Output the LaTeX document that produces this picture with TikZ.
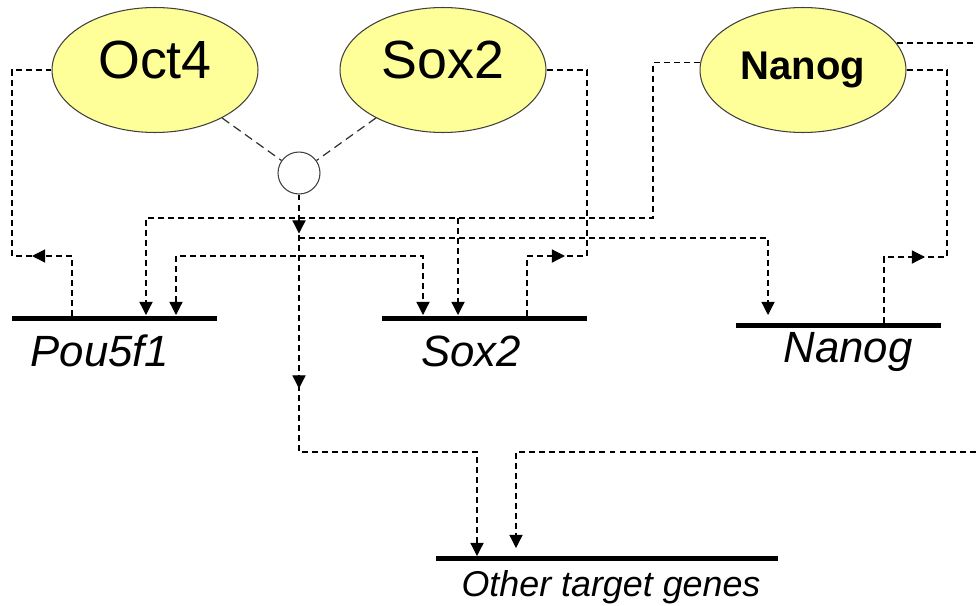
\documentclass[tikz,border=0pt]{standalone}
\usepackage{fontspec}
\newfontfamily\arialf{Liberation Sans}
\usetikzlibrary{shapes.geometric,arrows.meta,decorations.markings}
\definecolor{protfill}{RGB}{255,255,153}
\begin{document}
\begin{tikzpicture}[x=0.02cm,y=-0.02cm,
  prot/.style={ellipse, draw=black!75, line width=0.6pt, fill=protfill,
    minimum width=4.12cm, minimum height=2.5cm, inner sep=0pt},
  complexdot/.style={circle, draw=black!75, line width=0.6pt, fill=white,
    minimum size=0.84cm, inner sep=0pt},
  genebar/.style={rectangle, fill=black, minimum height=0.1cm, inner sep=0pt},
  glabel/.style={font=\arialf\itshape\fontsize{24.9pt}{30pt}\selectfont,
    inner sep=0pt, anchor=base},
  dline/.style={line width=0.72pt, dash pattern=on 3.4pt off 2.3pt},
  bondline/.style={line width=0.7pt, dash pattern=on 5pt off 3pt, draw=black!80},
  endtip/.style={-{Triangle[length=7.5pt,width=7.5pt]}},
  twotips/.style={{Triangle[length=7.5pt,width=7.5pt]}-{Triangle[length=7.5pt,width=7.5pt]}},
  midtip/.style={postaction={decorate}, decoration={markings,
    mark=at position #1 with {\arrow{Triangle[length=7.5pt,width=7.5pt]}}}}
]
\useasboundingbox (0,0) rectangle (976,605);

% proteins and the Oct4/Sox2 complex
\node[prot, text depth=0.4cm, font=\arialf\fontsize{30.6pt}{36pt}\selectfont] (oct4) at (155,70) {Oct4};
\node[prot, text depth=0.4cm, font=\arialf\fontsize{30.6pt}{36pt}\selectfont] (sox2) at (443,70) {Sox2};
\node[prot, font=\arialf\bfseries\fontsize{22.8pt}{27pt}\selectfont] (nanog) at (803,70) {Nanog};
\node[complexdot] (cx) at (299,173) {};

% genes
\node[genebar, minimum width=4.1cm] (gpou) at (114.5,318) {};
\node[genebar, minimum width=4.1cm] (gsox) at (484.5,318) {};
\node[genebar, minimum width=4.12cm] (gnan) at (838.5,325) {};
\node[genebar, minimum width=6.86cm] (goth) at (607,558) {};
\node[glabel] (lpou) at (100,366) {Pou5f1};
\node[glabel] (lsox) at (471,366) {Sox2};
\node[glabel] (lnan) at (848,362) {Nanog};
\node[glabel, font=\arialf\itshape\fontsize{20.4pt}{24pt}\selectfont] (loth) at (611,596) {Other target genes};

% contact points on the gene bars and branch points
\coordinate (pouOut) at (72,316);
\coordinate (pouInA) at (146,315);
\coordinate (pouInB) at (176,315);
\coordinate (soxInA) at (423,315);
\coordinate (soxInB) at (458,315);
\coordinate (soxOut) at (527,316);
\coordinate (nanInA) at (768,315);
\coordinate (nanOut) at (884,323);
\coordinate (othInA) at (477,556);
\coordinate (othInB) at (516,548);
\coordinate (edgeTop) at (976,43);
\coordinate (edgeLow) at (976,452);
\coordinate (j1) at (458,218);
\coordinate (j2) at (299,238);
\coordinate (j3) at (299,256);
\coordinate (nl) at (653,218);

% Oct4 and Sox2 bind to form the complex
\draw[bondline] (oct4) -- (cx);
\draw[bondline] (sox2) -- (cx);

% each gene produces its protein
\draw[dline, midtip=2.0cm] (pouOut) |- (12,256) |- (oct4.west);
\draw[dline, midtip=1.96cm] (soxOut) |- (587,256) |- (sox2.east);
\draw[dline, midtip=2.14cm] (nanOut) |- (947,257) |- (nanog.east);

% the complex acts on its targets
\draw[dline, endtip, postaction={decorate}, decoration={markings,
    mark=at position 0.78cm with {\arrow{Triangle[length=7.5pt,width=7.5pt]}},
    mark=at position 3.88cm with {\arrow{Triangle[length=7.5pt,width=7.5pt]}}}]
  (cx.south) -- (299,452) -| (othInA);
\draw[dline, endtip] (j2) -| (nanInA);
\draw[dline, twotips] (pouInB) |- (j3) -| (soxInA);

% Nanog acts on its targets
\draw[dline, endtip] (nanog.176) -| (nl) -| (pouInA);
\draw[dline, endtip] (j1) -- (soxInB);
\draw[dline] (edgeTop -| nanog.16) -- (edgeTop);
\draw[dline, endtip] (edgeLow) -| (othInB);
\end{tikzpicture}
\end{document}
